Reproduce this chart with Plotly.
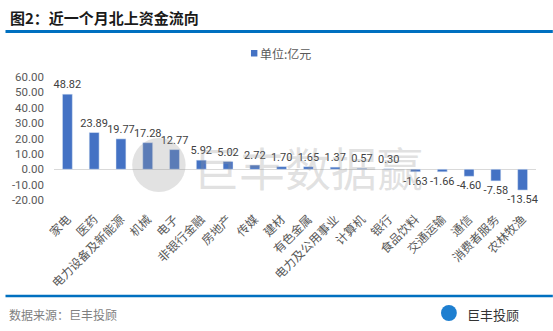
import plotly.graph_objects as go

categories = ["家电", "医药", "电力设备及新能源", "机械", "电子", "非银行金融", "房地产", "传媒",
              "建材", "有色金属", "电力及公用事业", "计算机", "银行", "食品饮料", "交通运输",
              "通信", "消费者服务", "农林牧渔"]
values = [48.82, 23.89, 19.77, 17.28, 12.77, 5.92, 5.02, 2.72, 1.70, 1.65, 1.37, 0.57, 0.30,
          -1.63, -1.66, -4.60, -7.58, -13.54]
y_ticks = [-20, -10, 0, 10, 20, 30, 40, 50, 60]
legend_name = "单位:亿元"
title_text = "图2：近一个月北上资金流向"
source_text = "数据来源：巨丰投顾"
brand_text = "巨丰投顾"
watermark_text = "巨丰数据赢"

W, H = 553, 331
L, R, T, B = 49, 17, 77, 131
pw, ph = W - L - R, H - T - B
BAR_COLOR = "#4472C4"


def px(x):
    return (x - L) / pw


def py(y):
    return (H - B - y) / ph


FONT = "Noto Sans CJK SC, Noto Sans, sans-serif"
NUMFONT = "Roboto, Noto Sans, sans-serif"

fig = go.Figure()
fig.add_trace(go.Bar(
    x=categories, y=values, name=legend_name,
    marker_color=BAR_COLOR, width=0.37,
    texttemplate="%{y:.2f}", textposition="outside",
    textfont=dict(size=11, color="#404040", family=NUMFONT),
    constraintext="none",
    cliponaxis=False, showlegend=False,
))

fig.update_layout(
    width=W, height=H,
    margin=dict(l=L, r=R, t=T, b=B),
    paper_bgcolor="white", plot_bgcolor="white",
    font=dict(family=FONT, color="#595959"),
    showlegend=False,
    xaxis=dict(range=[-0.5, len(categories) - 0.5], tickangle=-45,
               tickfont=dict(size=12, color="#595959"), showgrid=False,
               showline=False, ticks="", ticklabelstandoff=9),
    yaxis=dict(range=[-20, 60], tickvals=y_ticks,
               ticktext=[f"{v:.2f}" for v in y_ticks],
               tickfont=dict(size=11.5, color="#595959", family=NUMFONT), showgrid=False,
               zeroline=True, zerolinecolor="#D9D9D9", zerolinewidth=1,
               showline=False, ticks="", ticklabelstandoff=9),
)

shapes = [
    dict(type="line", xref="paper", yref="paper", x0=px(0), x1=px(W), y0=py(31.5), y1=py(31.5),
         line=dict(color="#0070C0", width=3)),
    dict(type="line", xref="paper", yref="paper", x0=px(0), x1=px(W), y0=py(296), y1=py(296),
         line=dict(color="#0070C0", width=2.5)),
    dict(type="circle", xref="paper", yref="paper", x0=px(128), x1=px(182), y0=py(192), y1=py(138),
         fillcolor="rgba(150,150,150,0.28)", line=dict(width=0)),
    dict(type="circle", xref="paper", yref="paper", x0=px(440), x1=px(456), y0=py(321), y1=py(305),
         fillcolor="#1E7FD0", line=dict(width=0)),
    # legend marker
    dict(type="rect", xref="paper", yref="paper", x0=px(248), x1=px(254.5), y0=py(56.5), y1=py(50),
         fillcolor=BAR_COLOR, line=dict(width=0)),
]
fig.update_layout(shapes=shapes)

annotations = [
    dict(text=f"<b>{title_text}</b>", xref="paper", yref="paper", x=px(3), y=py(17),
         xanchor="left", yanchor="middle", showarrow=False,
         font=dict(size=15, color="#1a1a1a", family=FONT)),
    dict(text=legend_name, xref="paper", yref="paper", x=px(255), y=py(53),
         xanchor="left", yanchor="middle", showarrow=False,
         font=dict(size=12, color="#595959", family=FONT)),
    dict(text=source_text, xref="paper", yref="paper", x=px(2), y=py(314),
         xanchor="left", yanchor="middle", showarrow=False,
         font=dict(size=12, color="#7F7F7F", family=FONT)),
    dict(text=brand_text, xref="paper", yref="paper", x=px(464), y=py(314),
         xanchor="left", yanchor="middle", showarrow=False,
         font=dict(size=13, color="#333333", family=FONT)),
    dict(text=watermark_text, xref="paper", yref="paper", x=px(306), y=py(166),
         xanchor="center", yanchor="middle", showarrow=False,
         font=dict(size=46, color="rgba(150,150,150,0.28)", family=FONT)),
]
fig.update_layout(annotations=annotations)

fig.write_html("out.html")
